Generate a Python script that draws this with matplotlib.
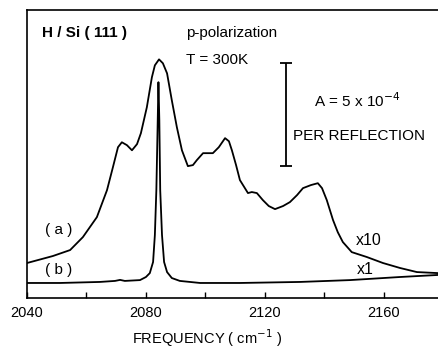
import matplotlib
matplotlib.use("Agg")
import matplotlib.pyplot as plt
from matplotlib.ticker import MultipleLocator

plt.rcParams['font.family'] = ['Liberation Sans', 'DejaVu Sans']

# spectrum (a): broad rough-surface absorbance, shown x10 (units of 1e-4)
freq_a = [2040.0, 2048.7, 2054.5, 2058.8, 2063.5, 2066.9, 2068.9, 2070.6, 2071.9,
          2073.6, 2075.3, 2077.0, 2078.3, 2080.3, 2082.0, 2083.0, 2084.4, 2085.7,
          2087.1, 2088.7, 2090.4, 2092.1, 2094.1, 2095.8, 2097.1, 2099.2, 2102.5,
          2104.5, 2106.6, 2107.9, 2108.9, 2110.3, 2111.6, 2114.3, 2115.6, 2117.3,
          2119.3, 2121.3, 2123.4, 2126.1, 2128.4, 2130.8, 2132.8, 2135.5, 2137.8,
          2139.2, 2140.8, 2142.9, 2144.5, 2146.2, 2149.2, 2154.3, 2159.7, 2165.4,
          2171.1, 2178.2]
absorb_a = [1.70, 2.04, 2.33, 2.96, 3.93, 5.24, 6.36, 7.33, 7.57,
            7.43, 7.18, 7.48, 8.01, 9.27, 10.73, 11.31, 11.60, 11.41,
            10.92, 9.61, 8.30, 7.18, 6.41, 6.46, 6.70, 7.04, 7.04,
            7.33, 7.77, 7.62, 7.18, 6.46, 5.73, 5.10, 5.15, 5.10,
            4.76, 4.47, 4.32, 4.47, 4.66, 5.00, 5.34, 5.49, 5.58,
            5.34, 4.76, 3.79, 3.20, 2.72, 2.23, 1.99, 1.70, 1.46,
            1.26, 1.21]

# spectrum (b): ideal H/Si(111) monohydride line, shown x1
freq_b = [2040.0, 2051.1, 2064.5, 2069.6, 2071.3, 2072.9, 2078.0, 2080.0, 2081.3,
          2082.4, 2083.0, 2083.5, 2083.9, 2084.2, 2084.5, 2084.8, 2085.4, 2086.1,
          2087.1, 2088.7, 2091.4, 2098.2, 2111.6, 2131.8, 2148.6, 2165.4, 2178.2]
absorb_b = [0.73, 0.73, 0.78, 0.83, 0.88, 0.83, 0.87, 1.02, 1.21,
            1.75, 3.06, 5.24, 8.16, 10.49, 8.64, 5.24, 3.06, 1.75,
            1.26, 0.97, 0.83, 0.73, 0.73, 0.78, 0.87, 1.02, 1.12]

# scale bar: 5 x 10^-4 absorbance per reflection
bar_freq = 2127.1
bar_low = 6.41
bar_size = 5.0

fig = plt.figure(figsize=(4.38, 3.48), dpi=100)
ax = fig.add_axes([0.0616, 0.1437, 0.9384, 0.8276])

ax.plot(freq_a, absorb_a, color='black', lw=1.3)
ax.plot(freq_b, absorb_b, color='black', lw=1.3)

ax.errorbar([bar_freq], [bar_low + bar_size / 2], yerr=[bar_size / 2],
            color='black', lw=1.3, capsize=4, capthick=1.3)

ax.set_xlim(2040, 2178.2)
ax.set_ylim(0, 14)
ax.spines['right'].set_visible(False)
for s in ['left', 'top', 'bottom']:
    ax.spines[s].set_linewidth(1.2)
ax.set_yticks([])
ax.xaxis.set_major_locator(MultipleLocator(40))
ax.xaxis.set_minor_locator(MultipleLocator(20))
ax.tick_params(axis='x', which='both', direction='in', length=4, width=1,
               labelsize=10.5, pad=6)

ax.set_xlabel('FREQUENCY ( cm$^{-1}$ )', fontsize=10.5, va='center')
ax.xaxis.set_label_coords(0.438, -0.138)

ax.text(2045, 12.9, 'H / Si ( 111 )', fontsize=11, fontweight='bold', va='center')
ax.text(2093.5, 12.9, 'p-polarization', fontsize=11, va='center')
ax.text(2093.5, 11.55, 'T = 300K', fontsize=11, va='center')
ax.text(2136.5, 9.6, 'A = 5 x 10$^{-4}$', fontsize=11, va='center')
ax.text(2129.5, 7.86, 'PER REFLECTION', fontsize=11, va='center')
ax.text(2046, 3.3, '( a )', fontsize=11, va='center')
ax.text(2046, 1.36, '( b )', fontsize=11, va='center')
ax.text(2150.5, 2.8, 'x10', fontsize=11.5, va='center')
ax.text(2151.0, 1.4, 'x1', fontsize=11.5, va='center')

fig.savefig('out.png', dpi=100)
